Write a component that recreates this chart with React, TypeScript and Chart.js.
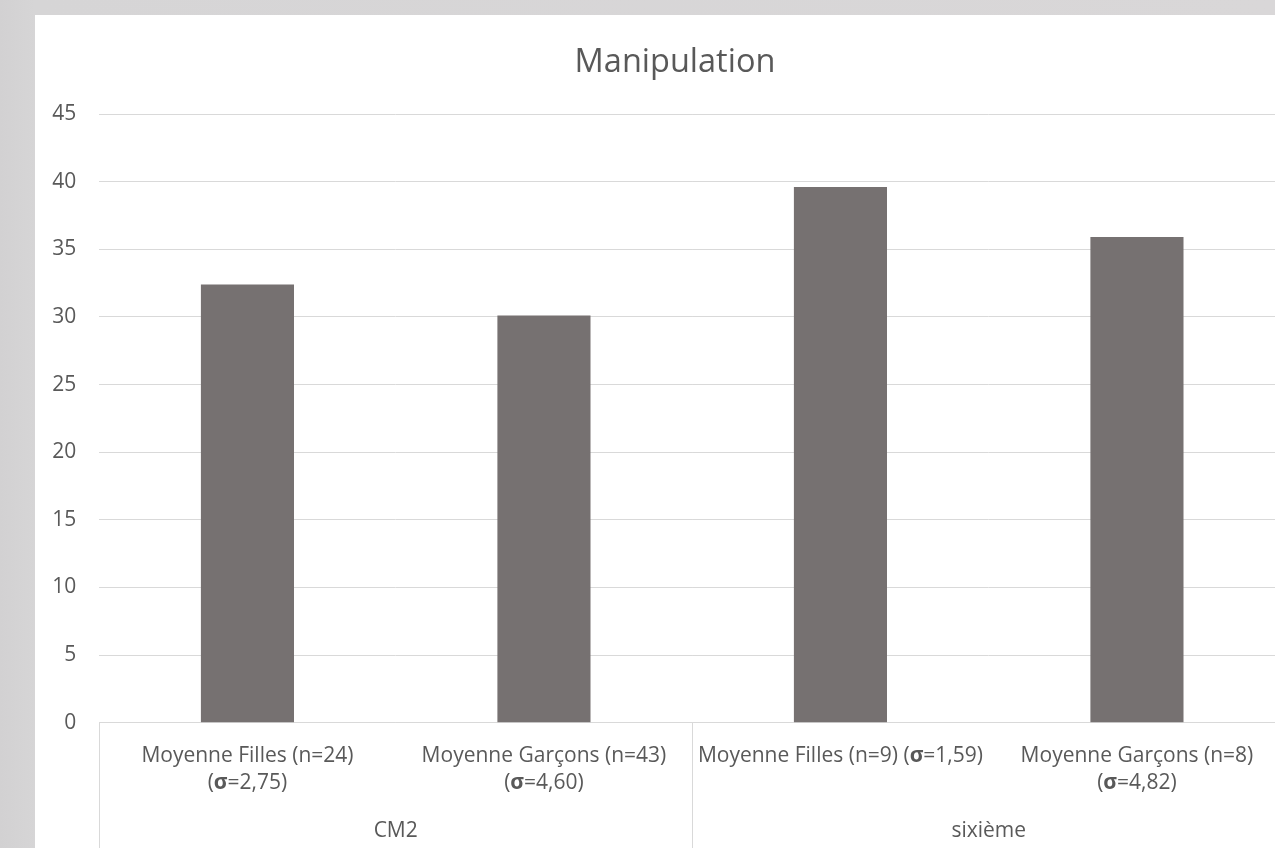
import React, { useEffect, useRef } from "react";
import { Chart, registerables } from "chart.js";

Chart.register(...registerables);

const TITLE = "Manipulation";
const categoryLines: string[][] = [
  ["Moyenne Filles (n=24)", "(σ=2,75)"],
  ["Moyenne Garçons (n=43)", "(σ=4,60)"],
  ["Moyenne Filles (n=9) (σ=1,59)"],
  ["Moyenne Garçons (n=8)", "(σ=4,82)"],
];
const groupLabels = ["CM2", "sixième"];
const groupSizes = [2, 2];
const values = [32.4, 30.1, 39.6, 35.9];
const yMin = 0;
const yMax = 45;
const yStep = 5;

const TEXT = "#595959";
const GRID = "#d9d9d9";
const BAR = "#767171";
const FONT = "'Open Sans', sans-serif";

const groupStarts: number[] = [];
{
  let s = 0;
  for (const n of groupSizes) {
    groupStarts.push(s);
    s += n;
  }
}

function drawMixed(ctx: CanvasRenderingContext2D, text: string, cx: number, y: number) {
  const parts = text.split(/(σ)/).filter((p) => p.length > 0);
  const fontFor = (p: string) => `${p === "σ" ? "bold " : ""}21px ${FONT}`;
  let total = 0;
  for (const p of parts) {
    ctx.font = fontFor(p);
    total += ctx.measureText(p).width;
  }
  let x = cx - total / 2;
  for (const p of parts) {
    ctx.font = fontFor(p);
    ctx.fillText(p, x, y);
    x += ctx.measureText(p).width;
  }
}

const labelPlugin = {
  id: "multiLevelLabels",
  afterDraw(chart: any) {
    const ctx: CanvasRenderingContext2D = chart.ctx;
    const xs = chart.scales.x;
    const base = xs.top;
    ctx.save();
    ctx.fillStyle = TEXT;
    ctx.textBaseline = "alphabetic";
    // chart title, centred on the whole chart object
    ctx.textAlign = "center";
    ctx.font = `32.5px ${FONT}`;
    ctx.fillText(TITLE, chart.width / 2, 56.7);
    ctx.textAlign = "left";
    categoryLines.forEach((lines, i) => {
      const cx = xs.getPixelForValue(i);
      lines.forEach((line, j) => {
        drawMixed(ctx, line, cx, base + 39 + j * 27.3);
      });
    });
    ctx.textAlign = "center";
    ctx.font = `21px ${FONT}`;
    groupLabels.forEach((g, k) => {
      const a = xs.getPixelForValue(groupStarts[k]);
      const b = xs.getPixelForValue(groupStarts[k] + groupSizes[k] - 1);
      ctx.fillText(g, (a + b) / 2, base + 114.6);
    });
    ctx.restore();
  },
};

export default function App() {
  const ref = useRef<HTMLCanvasElement | null>(null);
  useEffect(() => {
    if (!ref.current) return;
    const boundaries = new Set<number>(groupStarts);
    const chart = new Chart(ref.current, {
      type: "bar",
      data: {
        labels: categoryLines,
        datasets: [
          {
            data: values,
            backgroundColor: BAR,
            borderWidth: 0,
            categoryPercentage: 1,
            barPercentage: 0.314,
          },
        ],
      },
      options: {
        animation: false,
        responsive: false,
        maintainAspectRatio: false,
        devicePixelRatio: 1,
        layout: { padding: { left: 0, right: 29.8, top: 99, bottom: 0 } },
        plugins: {
          legend: { display: false },
          tooltip: { enabled: false },
          title: { display: false },
        },
        scales: {
          x: {
            offset: true,
            ticks: { display: false },
            border: { display: true, color: GRID, width: 1 },
            grid: {
              offset: true,
              drawOnChartArea: false,
              drawTicks: true,
              tickLength: 140,
              lineWidth: 1,
              color: (c: any) =>
                c.index === undefined || boundaries.has(c.index) ? GRID : "rgba(0,0,0,0)",
            },
            afterFit: (s: any) => {
              s.height = 125.3;
            },
          },
          y: {
            min: yMin,
            max: yMax,
            border: { display: false },
            grid: { color: GRID, lineWidth: 1, drawTicks: false },
            ticks: {
              stepSize: yStep,
              color: TEXT,
              padding: 23,
              font: { family: FONT, size: 21 },
            },
            afterFit: (s: any) => {
              s.width = 64.2;
            },
          },
        },
      },
      plugins: [labelPlugin],
    });
    return () => chart.destroy();
  }, []);

  return (
    <div
      style={{
        position: "fixed",
        left: 0,
        top: 0,
        width: 1275,
        height: 848,
        overflow: "hidden",
        background: "linear-gradient(to right, #d2d1d2 0px, #d6d5d6 35px, #d9d7d8 100%)",
      }}
    >
      <div
        style={{
          position: "absolute",
          left: 35,
          top: 15,
          width: 1280,
          height: 833,
          background: "#ffffff",
        }}
      >
        <canvas ref={ref} width={1280} height={833} style={{ display: "block", width: 1280, height: 833 }} />
      </div>
    </div>
  );
}
